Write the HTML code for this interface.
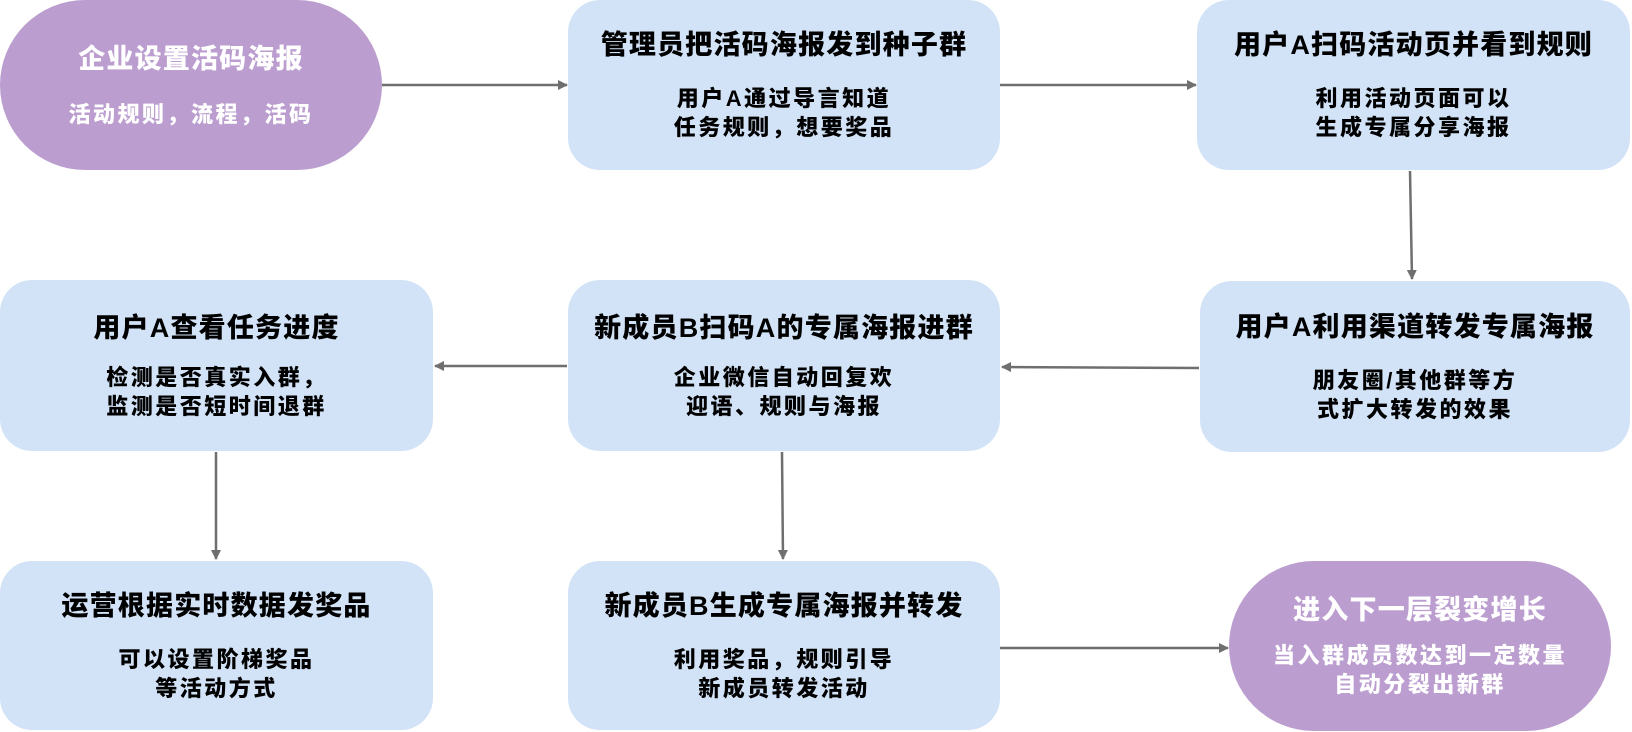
<!DOCTYPE html>
<html><head><meta charset="utf-8"><style>
body{margin:0;width:1632px;height:732px;background:#fff;position:relative;overflow:hidden;font-family:"Liberation Sans","Noto Sans CJK SC",sans-serif;font-weight:900}
.b{position:absolute;display:flex;flex-direction:column;align-items:center;justify-content:center;text-align:center;background:#d3e3f7;border-radius:32px;color:#000;box-sizing:border-box}
.p{background:#bb9ecf;color:#fff;border-radius:90px}
.t{font-size:27px;line-height:34px;letter-spacing:1.2px;margin-bottom:22px}
.s{font-size:22px;line-height:29px;letter-spacing:2.5px}
svg{position:absolute;left:0;top:0}
</style></head><body>
<div class="b p" style="left:0;top:0;width:382px;height:170px"><div class="t" style="margin-bottom:24px">企业设置活码海报</div><div class="s">活动规则，流程，活码</div></div>
<div class="b" style="left:568px;top:0;width:432px;height:170px"><div class="t">管理员把活码海报发到种子群</div><div class="s">用户A通过导言知道<br>任务规则，想要奖品</div></div>
<div class="b" style="left:1197px;top:0;width:433px;height:170px"><div class="t">用户A扫码活动页并看到规则</div><div class="s">利用活动页面可以<br>生成专属分享海报</div></div>

<div class="b" style="left:0;top:280px;width:433px;height:171px"><div class="t" style="margin-bottom:18px">用户A查看任务进度</div><div class="s">检测是否真实入群，<br>监测是否短时间退群</div></div>
<div class="b" style="left:568px;top:280px;width:432px;height:171px"><div class="t" style="margin-bottom:18px">新成员B扫码A的专属海报进群</div><div class="s">企业微信自动回复欢<br>迎语、规则与海报</div></div>
<div class="b" style="left:1200px;top:281px;width:430px;height:171px"><div class="t">用户A利用渠道转发专属海报</div><div class="s">朋友圈/其他群等方<br>式扩大转发的效果</div></div>

<div class="b" style="left:0;top:561px;width:433px;height:169px"><div class="t">运营根据实时数据发奖品</div><div class="s">可以设置阶梯奖品<br>等活动方式</div></div>
<div class="b" style="left:568px;top:561px;width:432px;height:169px"><div class="t">新成员B生成专属海报并转发</div><div class="s">利用奖品，规则引导<br>新成员转发活动</div></div>
<div class="b p" style="left:1229px;top:561px;width:382px;height:170px"><div class="t" style="margin-bottom:14px">进入下一层裂变增长</div><div class="s">当入群成员数达到一定数量<br>自动分裂出新群</div></div>

<svg width="1632" height="732"><defs><marker id="a" markerWidth="10" markerHeight="10" refX="9" refY="5" orient="auto" markerUnits="userSpaceOnUse"><path d="M0,0L10,5L0,10z" fill="#6f6f6f"/></marker></defs>
<g stroke="#6f6f6f" stroke-width="2.5" fill="none" marker-end="url(#a)">
<line x1="382" y1="85" x2="567" y2="85"/>
<line x1="1000" y1="85" x2="1196" y2="85"/>
<line x1="1410" y1="171" x2="1412" y2="279"/>
<line x1="1199" y1="368" x2="1002" y2="367"/>
<line x1="567" y1="366" x2="435" y2="366"/>
<line x1="216" y1="452" x2="216" y2="559"/>
<line x1="782" y1="452" x2="783" y2="559"/>
<line x1="1000" y1="648" x2="1228" y2="648"/>
</g></svg>
</body></html>
